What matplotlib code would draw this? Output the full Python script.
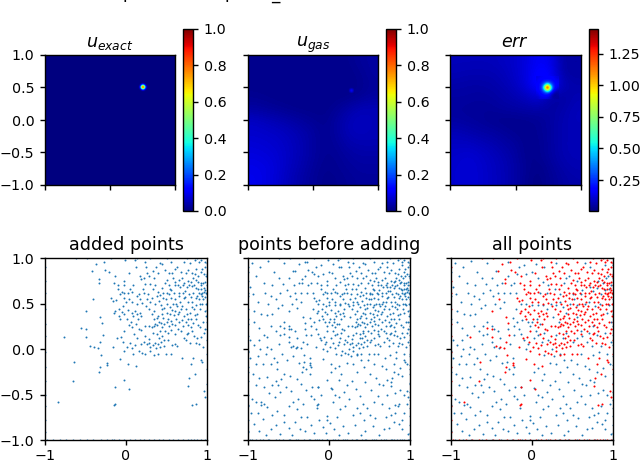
import numpy as np
import matplotlib
matplotlib.use('Agg')
import matplotlib.pyplot as plt

# background fields, rows from y=1 down to y=-1, columns x=-1 to x=1
exact_field = [[0.0, 0.0], [0.0, 0.0]]
gas_field = [
    [.012, .012, .012, .012, .012, .012, .012, .012, .015, .025, .030],
    [.012, .012, .012, .012, .012, .012, .012, .012, .012, .018, .030],
    [.012, .012, .012, .012, .012, .012, .012, .012, .012, .015, .025],
    [.018, .015, .012, .012, .012, .012, .012, .012, .012, .020, .030],
    [.030, .025, .020, .015, .012, .012, .012, .020, .035, .050, .050],
    [.060, .052, .045, .036, .028, .020, .015, .030, .050, .055, .050],
    [.068, .065, .060, .052, .042, .030, .018, .030, .050, .055, .050],
    [.076, .072, .068, .058, .046, .030, .018, .025, .040, .045, .045],
    [.084, .080, .072, .060, .046, .030, .018, .020, .030, .035, .035],
    [.092, .088, .076, .056, .042, .025, .015, .018, .025, .030, .030],
    [.096, .088, .072, .052, .036, .022, .012, .015, .020, .025, .025],
]
err_field = [
    [.08, .08, .08, .08, .09, .10, .13, .16, .14, .05, .05],
    [.075, .07, .07, .07, .08, .10, .13, .18, .16, .05, .05],
    [.06, .055, .055, .06, .07, .09, .13, .20, .18, .08, .06],
    [.05, .05, .045, .05, .06, .07, .09, .12, .05, .05, .07],
    [.045, .04, .04, .04, .05, .055, .06, .06, .05, .06, .08],
    [.05, .045, .04, .03, .025, .025, .03, .035, .05, .07, .08],
    [.075, .065, .055, .05, .04, .03, .025, .035, .05, .07, .075],
    [.09, .09, .08, .07, .055, .045, .025, .03, .05, .07, .08],
    [.10, .11, .10, .085, .07, .05, .025, .03, .05, .07, .075],
    [.105, .115, .105, .09, .075, .055, .03, .02, .04, .06, .07],
    [.105, .115, .105, .09, .075, .055, .025, .015, .035, .05, .06],
]

# the small spots near (0.5, 0.5)
exact_spot = [
    [0, 0, 0, 0, 0, 0, 0],
    [0, 0, .06, .15, .06, 0, 0],
    [0, .06, .40, .70, .40, .06, 0],
    [0, .15, .70, 1.0, .70, .15, 0],
    [0, .06, .40, .70, .40, .06, 0],
    [0, 0, .06, .15, .06, 0, 0],
    [0, 0, 0, 0, 0, 0, 0],
]
gas_spot = [
    [.012, .012, .012, .012, .012],
    [.012, .05, .09, .05, .012],
    [.012, .09, .12, .09, .012],
    [.012, .05, .09, .05, .012],
    [.012, .012, .012, .012, .012],
]
err_spot = [
    [.14, .15, .16, .17, .17, .17, .16, .14, .12],
    [.15, .17, .19, .20, .21, .20, .19, .16, .14],
    [.16, .19, .22, .26, .29, .26, .22, .19, .15],
    [.17, .20, .26, .50, .95, .50, .26, .20, .15],
    [.17, .21, .29, .95, 1.44, .95, .29, .20, .13],
    [.16, .20, .26, .50, .95, .50, .24, .15, .08],
    [.14, .18, .22, .26, .29, .24, .14, .05, .06],
    [.12, .15, .18, .20, .19, .15, .05, .03, .05],
    [.10, .12, .13, .13, .12, .09, .06, .05, .05],
]

added_xy = [
    (-.84, -.58), (-.66, -.35), (-.64, -.14), (-.77, .13), (-.55, .23), (-.49, .22), (-.49, .13), (-.49, .42),
    (-.41, .55), (-.42, .86), (-.37, .93), (-.27, .96), (-.26, .87), (-.21, .85), (-.33, .77), (-.33, .72),
    (-.32, .35), (-.30, .29), (-.29, .15), (-.32, .08), (-.44, .03), (-.39, .02), (-.34, .01), (-.31, -.07),
    (-.32, -.20), (-.33, -.25), (-.24, -.15), (-.235, -.18), (-.135, -.42), (-.13, -.60), (-.15, -.62),
    (-.02, -.34), (.04, -.44), (.02, -.17), (.12, -.19), (-.08, -.11), (-.16, .02), (-.11, .12), (-.16, .53),
    (-.19, .56), (-.15, .40), (-.13, .42), (-.09, .36), (-.07, .33), (-.05, .41), (-.02, .38), (.01, .33),
    (.03, .43), (.07, .40), (.09, .36), (.11, .42), (.14, .38), (.15, .33), (.17, .40), (.19, .36), (.12, .28),
    (.16, .22), (.19, .21), (-.12, .54), (-.08, .60), (-.10, .66), (-.05, .63), (-.02, .62), (.03, .61),
    (.05, .66), (.07, .63), (-.03, .56), (-.13, .80), (-.10, .70), (-.02, .75), (.17, .80), (.19, .77),
    (.24, .71), (.22, .62), (.27, .60), (.30, .71), (.32, .56), (.36, .50), (.38, .58), (.41, .53), (.44, .44),
    (.46, .62), (.48, .72), (.45, .67), (.50, .76), (.53, .70), (.56, .65), (.59, .61), (.61, .55), (.58, .50),
    (.54, .46), (.50, .40), (.46, .34), (.43, .29), (.40, .36), (.35, .42), (.32, .39), (.50, .30), (.53, .25),
    (.56, .31), (.48, .20), (.52, .18), (.55, .21), (.45, .14), (.43, .08), (.40, .06), (.42, .02), (.47, .03),
    (.49, -.05), (.39, -.05), (.34, -.07), (.28, .07), (.26, .05), (.30, .02), (.23, .25), (.28, .25), (.32, .24),
    (.35, .25), (.38, .26), (.64, .38), (.68, .44), (.71, .36), (.74, .30), (.77, .26), (.80, .24), (.83, .29),
    (.86, .33), (.88, .38), (.91, .44), (.94, .50), (.97, .42), (.99, .36), (.79, .40), (.81, .46), (.76, .52),
    (.73, .57), (.70, .62), (.67, .68), (.72, .72), (.76, .75), (.80, .74), (.84, .70), (.87, .67), (.90, .62),
    (.93, .66), (.96, .63), (.99, .62), (.92, .70), (.95, .72), (.89, .74), (.83, .62), (.80, .57), (.86, .56),
    (.90, .55), (.94, .58), (.98, .57), (.82, .84), (.87, .88), (.92, .85), (.97, .90), (.79, .95), (.85, .98),
    (.93, .98), (.98, .96), (.68, .85), (.63, .90), (.57, .83), (.53, .84), (.48, .87), (.45, .93), (.56, .96),
    (.24, .96), (.11, .98), (-.01, .98), (.25, .90), (.33, .86), (.40, .84), (.35, .78), (.61, .74), (.66, .76),
    (.20, .51), (.25, .47), (.29, .44), (.34, .33), (.60, .42), (.63, .47), (.66, .30), (.60, .26), (.70, .25),
    (.60, .05), (.63, .03), (.57, .04), (.69, -.10), (.55, -.05), (.80, -.17), (.83, -.10), (.93, -.12), (.94, -.14),
    (.95, .02), (.90, .06), (.87, .07), (.84, .14), (.93, .13), (.96, .18), (.85, -.27), (.78, -.32), (.77, -.41),
    (.82, -.61), (.86, -.60), (.96, -.46), (.98, -.53), (.89, .26), (.75, .16), (.72, .12), (.18, .05), (.11, .04),
    (.05, .07), (.07, .01), (.01, .02), (-.04, .08), (-.02, -.02), (.09, -.06), (.16, -.02), (.20, -.04),
    (.04, .55), (.08, .52), (.13, .58), (.16, .60), (.21, .66), (.26, .55), (.30, .52), (.33, .66), (.36, .70),
    (.39, .63), (.42, .59), (.43, .48), (.47, .45), (.49, .55), (.51, .50), (.53, .60), (.55, .56), (.57, .43),
    (.59, .37), (.62, .33), (.65, .41), (.67, .52), (.69, .47), (.71, .56), (.74, .44), (.75, .38), (.77, .33),
    (.78, .60), (.81, .69), (.82, .52), (.84, .44), (.85, .37), (.87, .48), (.88, .58), (.89, .66), (.91, .50),
    (.92, .60), (.93, .73), (.94, .62), (.95, .55), (.96, .67), (.97, .74), (.98, .65), (.99, .50), (.86, .76),
    (.83, .78), (.78, .70), (.75, .68), (.73, .64), (.70, .70), (.65, .58), (.62, .50), (.60, .70), (.58, .78),
    (.54, .66), (.51, .62), (.46, .56), (.44, .38), (.41, .30), (.38, .34), (.36, .28), (.33, .18), (.38, .17),
    (.42, .20), (.45, .24), (.47, .28), (.52, .33), (.54, .38), (.57, .27), (.60, .17), (.64, .22), (.68, .20),
    (.52, .10), (.47, .10), (.41, .12), (.36, .07), (.33, .04), (.29, .11), (.24, .14), (.22, .08), (.30, -.02),
    (.24, -.05), (.37, .01), (.10, .17), (.14, .12), (.08, .24), (.04, .26), (-.02, .20), (-.06, .13), (.74, .10),
    (.79, .07), (.88, .12), (.91, .24), (.95, .30), (.98, .22), (.82, .20), (.77, .18), (.80, .33), (.69, .32),
    (.66, .62), (.64, .70), (.69, .78), (.74, .83), (.77, .87), (.85, .82), (.89, .80), (.94, .88), (.96, .82),
    (.99, .80), (.90, .96), (.71, .96), (.60, .88), (.42, .95), (.37, .90), (.29, .80), (.26, .84), (.22, .78),
    (.12, .90), (.04, .84), (-.03, .70), (-.15, .72), (.09, .70), (.00, .52), (-.04, .47), (-.09, .44), (.06, .30),
    (.13, .50), (.17, .55),
]
added_bottom_x = [-.97, -.9, -.82, -.74, -.66, -.57, -.48, -.41, -.31, -.24, -.17, -.15, -.09, -.03, .05, .11,
                  .17, .22, .28, .34, .41, .46, .53, .58, .64, .70, .76, .80, .84, .88, .92, .97]
added_left_y = [.9, .75, .62, .44, .28, .14, -.03, -.2, -.35, -.5, -.63, -.78, -.91]
added_right_y = [.95, .82, .7, .6, .5, .43, .3, .22, .1, -.05, -.22, -.38]
added_top_x = [-.62, -.48, -.18, .13, .3, .5, .75, .88]

base_xy = [
    (-.97, .68), (-.88, .52), (-.92, .30), (-.85, .90), (-.80, .73), (-.93, .42), (-.84, .38), (-.79, .62),
    (-.72, .58), (-.68, .85), (-.62, .78), (-.57, .71), (-.50, .78), (-.44, .86), (-.37, .73), (-.43, .70),
    (-.52, .65), (-.58, .48), (-.63, .45), (-.70, .38), (-.77, .37), (-.56, .30), (-.50, .25), (-.47, .22),
    (-.55, .16), (-.42, .20), (-.40, .12), (-.87, .23), (-.97, .10), (-.92, .04), (-.85, .00), (-.76, .02),
    (-.71, .00), (-.62, .06), (-.47, .02), (-.41, .01), (-.27, .05), (-.22, .15), (-.16, .22), (-.13, .16),
    (-.10, .10), (-.02, .25), (.05, .20), (.02, .12), (.08, .15), (.20, .10), (-.08, .00), (.15, -.07),
    (-.90, -.16), (-.82, -.17), (-.94, -.28), (-.76, -.31), (-.70, -.40), (-.72, -.16), (-.64, -.22),
    (-.59, -.33), (-.53, -.42), (-.47, -.46), (-.31, -.14), (-.24, -.28), (-.22, -.20), (-.23, -.10),
    (-.95, -.55), (-.90, -.58), (-.84, -.62), (-.80, -.60), (-.67, -.53), (-.60, -.47), (-.50, -.63),
    (-.45, -.58), (-.38, -.55), (-.96, -.70), (-.82, -.77), (-.70, -.72), (-.64, -.68), (-.72, -.88),
    (-.66, -.83), (-.60, -.93), (-.50, -.87), (-.42, -.80), (-.35, -.75), (-.30, -.90), (-.27, -.75),
    (-.21, -.42), (-.18, -.55), (-.15, -.65), (-.14, -.42), (-.10, -.51), (-.12, -.78), (-.04, -.92),
    (-.03, -.78), (.01, -.81), (-.02, -.74), (.02, -.43), (.03, -.25), (.08, -.21), (.12, -.34), (.15, -.28),
    (.22, -.15), (.30, -.17), (.05, -.58), (.12, -.53), (.20, -.63), (.25, -.55), (.30, -.72), (.35, -.65),
    (.38, -.70), (.17, -.85), (.24, -.92), (.32, -.84), (.45, -.90), (.43, -.78), (.50, -.72), (.57, -.76),
    (.62, -.95), (.74, -.87), (.80, -.80), (.90, -.78), (.85, -.63), (.74, -.65), (.90, -.88), (.97, -.93),
    (.50, -.27), (.58, -.32), (.62, -.38), (.67, -.40), (.72, -.34), (.77, -.36), (.45, -.36), (.43, -.20),
    (.48, -.12), (.56, -.16), (.65, -.19), (.75, -.07), (.83, -.03), (.88, -.21), (.92, -.05), (.35, -.05),
    (.27, -.08), (.25, .00), (.38, .12), (.55, .12), (.62, .14), (.68, .08), (.74, .03), (.85, .03),
    (.96, -.16), (.10, .28), (.06, .33), (.00, .30), (-.05, .30), (-.12, .32), (-.18, .30), (-.24, .34),
    (-.20, .44), (-.14, .50), (-.07, .50), (.00, .48), (.07, .48), (.14, .48), (.18, .44), (.26, .35),
    (.33, .30), (.42, .40), (.47, .50), (.52, .55), (.55, .35), (.38, .46), (.35, .60), (.28, .66), (.20, .70),
    (.14, .74), (.07, .78), (.00, .85), (-.07, .82), (-.16, .90), (-.22, .73), (-.27, .62), (-.20, .62),
    (-.35, .52), (-.40, .45), (.05, .93), (.15, .90), (.30, .94), (.42, .78), (.50, .60), (.55, .75),
    (.62, .65), (.70, .52), (.75, .64), (.80, .67), (.85, .60), (.88, .72), (.91, .78), (.95, .66), (.98, .70),
    (.94, .80), (.90, .92), (.72, .90), (.65, .95), (.78, .47), (.84, .50), (.93, .40), (.97, .30), (.70, .18),
    (.80, .15), (.90, .18), (.98, .08), (-.30, .96), (-.55, .95), (-.75, .97),
    (-.98, -.10), (-.88, -.08), (-.78, -.05), (-.68, -.10), (-.58, -.05), (-.52, -.12), (-.44, -.08), (-.37, -.15),
    (-.28, -.22), (-.86, -.32), (-.80, -.42), (-.90, -.40), (-.74, -.48), (-.63, -.40), (-.55, -.28), (-.48, -.30),
    (-.40, -.33), (-.34, -.38), (-.28, -.45), (-.22, -.52), (-.32, -.60), (-.40, -.66), (-.56, -.72), (-.76, -.64),
    (-.88, -.70), (-.93, -.82), (-.86, -.90), (-.78, -.94), (-.56, -.80), (-.46, -.95), (-.36, -.88), (-.22, -.84),
    (-.18, -.92), (-.08, -.86), (.06, -.88), (.10, -.75), (.14, -.66), (.08, -.50), (.18, -.47), (.22, -.40),
    (.28, -.35), (.33, -.44), (.38, -.52), (.42, -.60), (.47, -.65), (.55, -.58), (.60, -.52), (.66, -.60),
    (.70, -.75), (.76, -.72), (.82, -.70), (.86, -.82), (.93, -.70), (.96, -.60), (.92, -.50), (.88, -.45),
    (.82, -.48), (.72, -.50), (.52, -.45), (.40, -.12), (.35, -.25), (.60, -.06), (.70, -.22), (.80, -.25),
    (.90, -.30), (.54, -.85), (.68, -.88), (.40, -.95), (.12, -.95), (-.95, .95), (-.90, .80), (-.94, .60),
    (-.70, .70), (-.75, .50), (-.65, .55), (-.60, .62), (-.48, .58), (-.46, .50), (-.42, .62), (-.34, .62),
    (-.30, .80), (-.26, .70), (-.18, .82), (-.10, .92), (-.60, .25), (-.66, .20), (-.72, .25), (-.80, .15),
    (-.86, .10), (-.60, .15), (-.50, .08), (-.30, .22), (-.22, .25), (-.05, .05), (.10, .62), (.18, .62),
    (.24, .50), (.30, .48), (.34, .52), (.40, .72), (.46, .80), (.55, .48), (.60, .60), (.65, .50), (.72, .68),
    (.82, .75), (.90, .65), (.95, .48), (.75, .25), (.60, .20), (.50, .08), (.42, .18), (.30, .15), (.15, .18),
    (.12, .08),
]
base_bottom_x = [-.95, -.85, -.75, -.62, -.5, -.38, -.25, -.12, -.02, .08, .2, .33, .45, .56, .68, .78, .9, .99]
base_left_y = [.85, .58, .33, -.02, -.25, -.62, -.9]
base_right_y = [.92, .78, .55, .38, .25, .15, .04, -.08, -.18, -.28, -.37, -.47, -.56, -.65, -.74, -.83, -.92]

ticks_x = [-1, 0, 1]
ticks_y = [-1, -.5, 0, .5, 1]
err_ticks = [.25, .5, .75, 1, 1.25]
err_min, err_max = .005, 1.445

W, H = 640, 461

plt.rcParams['font.size'] = 10.3
plt.rcParams['axes.linewidth'] = 1.0
plt.rcParams['axes.titlesize'] = 12.6
plt.rcParams['xtick.major.pad'] = 2.8
plt.rcParams['ytick.major.pad'] = 4.2
plt.rcParams['xtick.major.width'] = 1.0
plt.rcParams['ytick.major.width'] = 1.0

def px_axes(x0, x1, y0, y1):
    # pixel box measured on the reference, y from the top
    return plt.gcf().add_axes([x0/W, 1-y1/H, (x1-x0)/W, (y1-y0)/H])

fig = plt.figure(figsize=(6.4, 4.61), dpi=100)

# top of a title cut off by the page edge, only these bits show
for tx, s in [(128, 'p'), (230, 'p'), (275, '_')]:
    fig.text(tx/W, 1+1.5/H, s, ha='center', va='baseline', fontsize=12)

top = [(45, 175, 183, 193), (248, 378, 386, 396), (450, 581, 589, 598)]
fields = [exact_field, gas_field, err_field]
spots = [exact_spot, gas_spot, err_spot]
spot_boxes = [(.497, .5, .07), (.585, .446, .05), (.486, .5, .17)]
titles = ['$u_{exact}$', '$u_{gas}$', '$err$']
limits = [(0, 1), (0, 1), (err_min, err_max)]

for i in range(3):
    x0, x1, c0, c1 = top[i]
    ax = px_axes(x0, x1, 55, 185)
    vmin, vmax = limits[i]
    im = ax.imshow(fields[i], extent=[-1, 1, -1, 1], cmap='jet', vmin=vmin, vmax=vmax,
                   interpolation='bicubic', aspect='auto')
    sx, sy, sr = spot_boxes[i]
    # interpolate the values, not the colours, so the rings come out in jet order
    ax.imshow(spots[i], extent=[sx-sr, sx+sr, sy-sr, sy+sr], cmap='jet', vmin=vmin, vmax=vmax,
              interpolation='bicubic', interpolation_stage='data', aspect='auto')
    ax.set_xlim(-1, 1)
    ax.set_ylim(-1, 1)
    ax.set_xticks(ticks_x)
    ax.set_xticklabels([])
    ax.set_yticks(ticks_y)
    if i > 0:
        ax.set_yticklabels([])
    ax.set_title(titles[i])
    cax = px_axes(c0, c1, 29, 211)
    cb = fig.colorbar(im, cax=cax)
    if i == 2:
        cb.set_ticks(err_ticks)

ax_x, ax_y = map(np.array, zip(*added_xy))
bx_x, bx_y = map(np.array, zip(*base_xy))

added_x = np.concatenate([ax_x, added_bottom_x, -np.ones(len(added_left_y)), np.ones(len(added_right_y)), added_top_x])
added_y = np.concatenate([ax_y, -np.ones(len(added_bottom_x)), added_left_y, added_right_y, np.ones(len(added_top_x))])
base_x = np.concatenate([bx_x, base_bottom_x, -np.ones(len(base_left_y)), np.ones(len(base_right_y))])
base_y = np.concatenate([bx_y, -np.ones(len(base_bottom_x)), base_left_y, base_right_y])

bottom = [(45, 207), (248, 410), (451, 613)]
names = ['added points', 'points before adding', 'all points']
for i in range(3):
    x0, x1 = bottom[i]
    ax = px_axes(x0, x1, 258, 440)
    if i == 0:
        ax.scatter(added_x, added_y, s=2, c='C0', linewidths=0)
    elif i == 1:
        ax.scatter(np.concatenate([base_x, added_x]), np.concatenate([base_y, added_y]), s=2, c='C0', linewidths=0)
    else:
        ax.scatter(base_x, base_y, s=2, c='C0', linewidths=0)
        ax.scatter(added_x, added_y, s=2.2, c='r', linewidths=0)
    ax.set_xlim(-1, 1)
    ax.set_ylim(-1, 1)
    ax.set_xticks(ticks_x)
    ax.set_yticks(ticks_y)
    if i > 0:
        ax.set_yticklabels([])
    ax.set_title(names[i])

fig.savefig('out.png', dpi=100)
